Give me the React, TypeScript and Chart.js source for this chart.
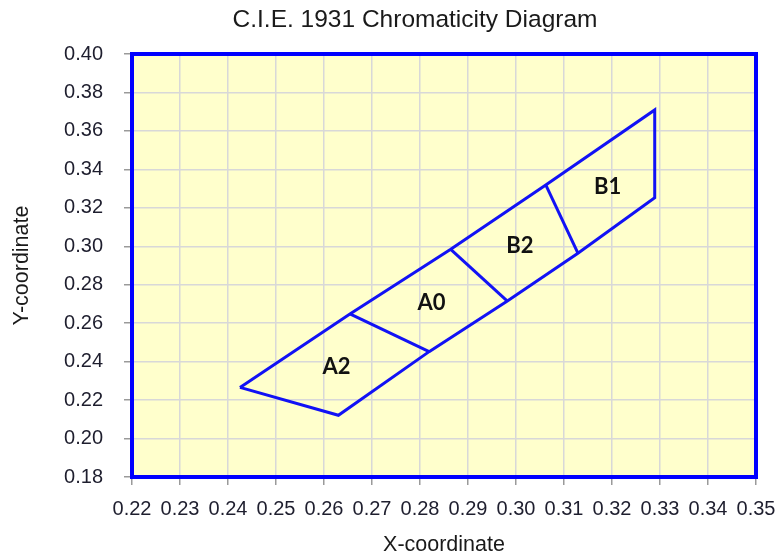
import React, { useEffect, useRef } from "react";
import { Chart, registerables } from "chart.js";

Chart.register(...registerables);

const chartTitle = "C.I.E. 1931 Chromaticity Diagram";
const xAxisTitle = "X-coordinate";
const yAxisTitle = "Y-coordinate";

const xTicks = [0.22, 0.23, 0.24, 0.25, 0.26, 0.27, 0.28, 0.29, 0.3, 0.31, 0.32, 0.33, 0.34, 0.35];
const yTicks = [0.18, 0.2, 0.22, 0.24, 0.26, 0.28, 0.3, 0.32, 0.34, 0.36, 0.38, 0.4];

// outline of all bins (closed polygon)
const outlineX = [0.2425, 0.263, 0.2819, 0.2982, 0.3129, 0.3289, 0.3289, 0.3062, 0.2864, 0.2654, 0.2425];
const outlineY = [0.2266, 0.2121, 0.2452, 0.2715, 0.2964, 0.3253, 0.3709, 0.3319, 0.2984, 0.2648, 0.2266];

// dividers between bins: [top, bottom]
const dividerA2A0X = [0.2654, 0.2819];
const dividerA2A0Y = [0.2648, 0.2452];
const dividerA0B2X = [0.2864, 0.2982];
const dividerA0B2Y = [0.2984, 0.2715];
const dividerB2B1X = [0.3062, 0.3129];
const dividerB2B1Y = [0.3319, 0.2964];

const binNames = ["A2", "A0", "B2", "B1"];
const binLabelX = [0.2626, 0.2824, 0.3008, 0.3191];
const binLabelY = [0.2371, 0.2707, 0.3003, 0.331];

const toPoints = (xs: number[], ys: number[]) => xs.map((x, i) => ({ x, y: ys[i] }));

const LINE = "#1212f5";

const plotDecor = {
  id: "plotDecor",
  beforeDraw(chart: any) {
    const { ctx, chartArea: a } = chart;
    ctx.save();
    ctx.fillStyle = "#ffffcc";
    ctx.fillRect(a.left, a.top, a.right - a.left, a.bottom - a.top);
    ctx.restore();
  },
  afterDatasetsDraw(chart: any) {
    const { ctx, chartArea: a, scales } = chart;
    ctx.save();
    ctx.strokeStyle = "#0000ff";
    ctx.lineWidth = 4;
    ctx.strokeRect(a.left, a.top, a.right - a.left, a.bottom - a.top);
    ctx.fillStyle = "#111111";
    ctx.font = "bold 22px Lato, 'Open Sans', sans-serif";
    ctx.textAlign = "center";
    ctx.textBaseline = "middle";
    binNames.forEach((n, i) => {
      ctx.fillText(n, scales.x.getPixelForValue(binLabelX[i]), scales.y.getPixelForValue(binLabelY[i]));
    });
    ctx.font = "24.5px 'Liberation Sans', Arial, sans-serif";
    ctx.fillStyle = "#1a1a1a";
    ctx.fillText(chartTitle, 415, 20);
    ctx.restore();
  },
};

export default function App() {
  const ref = useRef<HTMLCanvasElement>(null);
  useEffect(() => {
    if (!ref.current) return;
    const ds = (xs: number[], ys: number[]) => ({
      data: toPoints(xs, ys),
      showLine: true,
      borderColor: LINE,
      borderWidth: 3,
      pointRadius: 0,
      fill: false,
      tension: 0,
    });
    const tickFont = { family: "'Liberation Sans', Arial, sans-serif", size: 20 };
    const titleFont = { family: "'Liberation Sans', Arial, sans-serif", size: 21.5 };
    const chart = new Chart(ref.current, {
      type: "scatter",
      data: {
        datasets: [
          ds(outlineX, outlineY),
          ds(dividerA2A0X, dividerA2A0Y),
          ds(dividerA0B2X, dividerA0B2Y),
          ds(dividerB2B1X, dividerB2B1Y),
        ],
      },
      plugins: [plotDecor],
      options: {
        animation: false,
        responsive: false,
        maintainAspectRatio: false,
        layout: { padding: { top: 54, right: 20, left: 0, bottom: 0 } },
        plugins: { legend: { display: false }, tooltip: { enabled: false }, title: { display: false } },
        scales: {
          x: {
            type: "linear",
            min: 0.22,
            max: 0.35,
            afterBuildTicks: (s: any) => {
              s.ticks = xTicks.map((v) => ({ value: v }));
            },
            afterFit: (s: any) => {
              s.height = 82;
              s.paddingLeft = 0;
              s.paddingRight = 0;
            },
            ticks: {
              autoSkip: false,
              maxRotation: 0,
              padding: 12.5,
              color: "#1e1e2e",
              font: tickFont,
              callback: (v: any) => Number(v).toFixed(2),
            },
            grid: { color: "#d8d8d8", lineWidth: 1.5, tickColor: "#9a9a9a", tickLength: 8 },
            border: { display: false },
            title: {
              display: true,
              text: xAxisTitle,
              color: "#1a1a1a",
              font: titleFont,
              padding: { top: 0, bottom: 1.5 },
            },
          },
          y: {
            type: "linear",
            min: 0.18,
            max: 0.4,
            afterBuildTicks: (s: any) => {
              s.ticks = yTicks.map((v) => ({ value: v }));
            },
            afterFit: (s: any) => {
              s.width = 132;
              s.paddingTop = 0;
              s.paddingBottom = 0;
            },
            ticks: {
              autoSkip: false,
              padding: 21,
              color: "#1e1e2e",
              font: tickFont,
              callback: (v: any) => Number(v).toFixed(2),
            },
            grid: { color: "#d8d8d8", lineWidth: 1.5, tickColor: "#9a9a9a", tickLength: 8 },
            border: { display: false },
            title: {
              display: true,
              text: yAxisTitle,
              color: "#1a1a1a",
              font: titleFont,
              padding: { top: 9, bottom: 0 },
            },
          },
        },
      },
    });
    return () => chart.destroy();
  }, []);
  return (
    <div style={{ position: "fixed", left: 0, top: 0, width: 776, height: 559, background: "#fff" }}>
      <canvas ref={ref} width={776} height={559} style={{ display: "block" }} />
    </div>
  );
}
